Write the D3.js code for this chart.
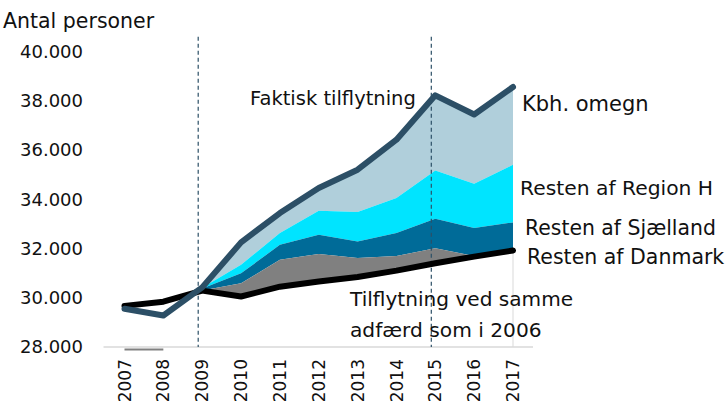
<!DOCTYPE html>
<html>
<head>
<meta charset="utf-8">
<script src="https://cdn.jsdelivr.net/npm/d3@7"></script>
<style>
  html, body { margin: 0; padding: 0; background: #fff; }
  svg { display: block; font-family: "DejaVu Sans", sans-serif; }
</style>
</head>
<body>
<svg id="chart" width="727" height="407"></svg>
<script>
// Årstal på x-aksen
const years = [2007, 2008, 2009, 2010, 2011, 2012, 2013, 2014, 2015, 2016, 2017];

// Faktisk tilflytning (antal personer)
const faktisk = [29550, 29280, 30420, 32250, 33440, 34460, 35200, 36420, 38220, 37440, 38560];

// Tilflytning ved samme adfærd som i 2006
const sammeAdfaerd = [29670, 29840, 30290, 30050, 30450, 30660, 30840, 31100, 31400, 31670, 31920];

// Bidrag til merindflytningen fra 2009 (null = ingen opdeling)
const restenDanmark = [null, null, 0, 540, 1090, 1120, 770, 600, 610, 30, 30];
const restenSjaelland = [null, null, 90, 400, 610, 780, 670, 930, 1200, 1130, 1110];
const restenRegionH = [null, null, 30, 350, 480, 970, 1200, 1420, 1960, 1800, 2340];
// Kbh. omegn udgør resten op til den faktiske tilflytning

const yTicks = [28000, 30000, 32000, 34000, 36000, 38000, 40000];
const markerYears = [2009, 2015];

const svg = d3.select("#chart");

const x = d3.scaleLinear().domain([2007, 2017]).range([124.5, 513]);
const y = d3.scaleLinear().domain([28000, 40000]).range([347, 51.5]);

const fmt = d3.formatLocale({ decimal: ",", thousands: ".", grouping: [3], currency: ["", " kr."] }).format(",");

// Stablede lag oven på basislinjen
const rows = years.map((yr, i) => {
  const b = sammeAdfaerd[i];
  const d = restenDanmark[i], s = restenSjaelland[i], r = restenRegionH[i];
  if (d === null) return null;
  const t1 = b + d, t2 = t1 + s, t3 = t2 + r;
  return { year: yr, b, t1, t2, t3, top: faktisk[i] };
}).filter(r => r);

const layers = [
  { lo: "t3", hi: "top", color: "#b0cfdb" }, // Kbh. omegn
  { lo: "t2", hi: "t3", color: "#00e4ff" },  // Resten af Region H
  { lo: "t1", hi: "t2", color: "#006b98" },  // Resten af Sjælland
  { lo: "b", hi: "t1", color: "#808080" }    // Resten af Danmark
];

const gArea = svg.append("g");
layers.forEach(L => {
  gArea.append("path")
    .datum(rows)
    .attr("fill", L.color)
    .attr("d", d3.area()
      .x(d => x(d.year))
      .y0(d => y(d[L.lo]))
      .y1(d => y(d[L.hi])));
});

// X-akse
const xAxisG = svg.append("g").attr("transform", `translate(0,${y(28000)})`);
xAxisG.append("line")
  .attr("x1", x(2007) - 21).attr("x2", x(2017) + 20)
  .attr("stroke", "#d9d9d9").attr("stroke-width", 1.5);

// grå rest ved aksens bund for 2007-2008
svg.append("path")
  .datum(years.slice(0, 2))
  .attr("fill", "none").attr("stroke", "#808080").attr("stroke-width", 2)
  .attr("d", d3.line().x(d => x(d)).y(() => y(28000) + 2.5));

// lodret hjælpelinje ved 2017
svg.append("line")
  .attr("x1", x(2017)).attr("x2", x(2017))
  .attr("y1", y(sammeAdfaerd[10])).attr("y2", y(28000))
  .attr("stroke", "#d9d9d9").attr("stroke-width", 1);

xAxisG.selectAll("text")
  .data(years)
  .join("text")
  .attr("transform", d => `translate(${x(d)},12) rotate(-90)`)
  .attr("text-anchor", "end")
  .attr("dy", "0.36em")
  .attr("font-size", 17)
  .attr("fill", "#111")
  .text(d => d);

// Y-akse (kun etiketter)
const yAxis = d3.axisLeft(y).tickValues(yTicks).tickSize(0).tickPadding(0).tickFormat(fmt);
const yAxisG = svg.append("g").attr("transform", "translate(83,0)").call(yAxis);
yAxisG.select(".domain").remove();
yAxisG.selectAll("text").attr("font-size", 18).attr("fill", "#111").attr("font-family", "DejaVu Sans, sans-serif");

svg.append("text")
  .attr("x", 3).attr("y", 28)
  .attr("font-size", 20.5).attr("fill", "#111")
  .text("Antal personer");

// Stiplede markeringslinjer
svg.selectAll(".marker")
  .data(markerYears)
  .join("line")
  .attr("x1", d => x(d) - 4).attr("x2", d => x(d) - 4)
  .attr("y1", y(40600)).attr("y2", y(28000))
  .attr("stroke", "#2c4f66").attr("stroke-width", 1.2)
  .attr("stroke-dasharray", "4,3");

const lineGen = d3.line().x((d, i) => x(years[i])).y(d => y(d));

svg.append("path")
  .datum(sammeAdfaerd)
  .attr("fill", "none").attr("stroke", "#000").attr("stroke-width", 6)
  .attr("stroke-linejoin", "round").attr("stroke-linecap", "round")
  .attr("d", lineGen);

svg.append("path")
  .datum(faktisk)
  .attr("fill", "none").attr("stroke", "#2c4f66").attr("stroke-width", 6)
  .attr("stroke-linejoin", "round").attr("stroke-linecap", "round")
  .attr("d", lineGen);

// Etiketter
const labels = [
  { t: "Faktisk tilflytning", x: 250, y: 105, s: 19.5 },
  { t: "Kbh. omegn", x: 522, y: 111, s: 21 },
  { t: "Resten af Region H", x: 520, y: 195, s: 20.3 },
  { t: "Resten af Sjælland", x: 525, y: 235, s: 20.4 },
  { t: "Resten af Danmark", x: 527, y: 264, s: 20.5 },
  { t: "Tilflytning ved samme", x: 350, y: 306, s: 20.1 },
  { t: "adfærd som i 2006", x: 350, y: 337, s: 20.2 }
];
svg.selectAll(".lbl")
  .data(labels)
  .join("text")
  .attr("x", d => d.x).attr("y", d => d.y)
  .attr("font-size", d => d.s).attr("fill", "#111")
  .text(d => d.t);
</script>
</body>
</html>
